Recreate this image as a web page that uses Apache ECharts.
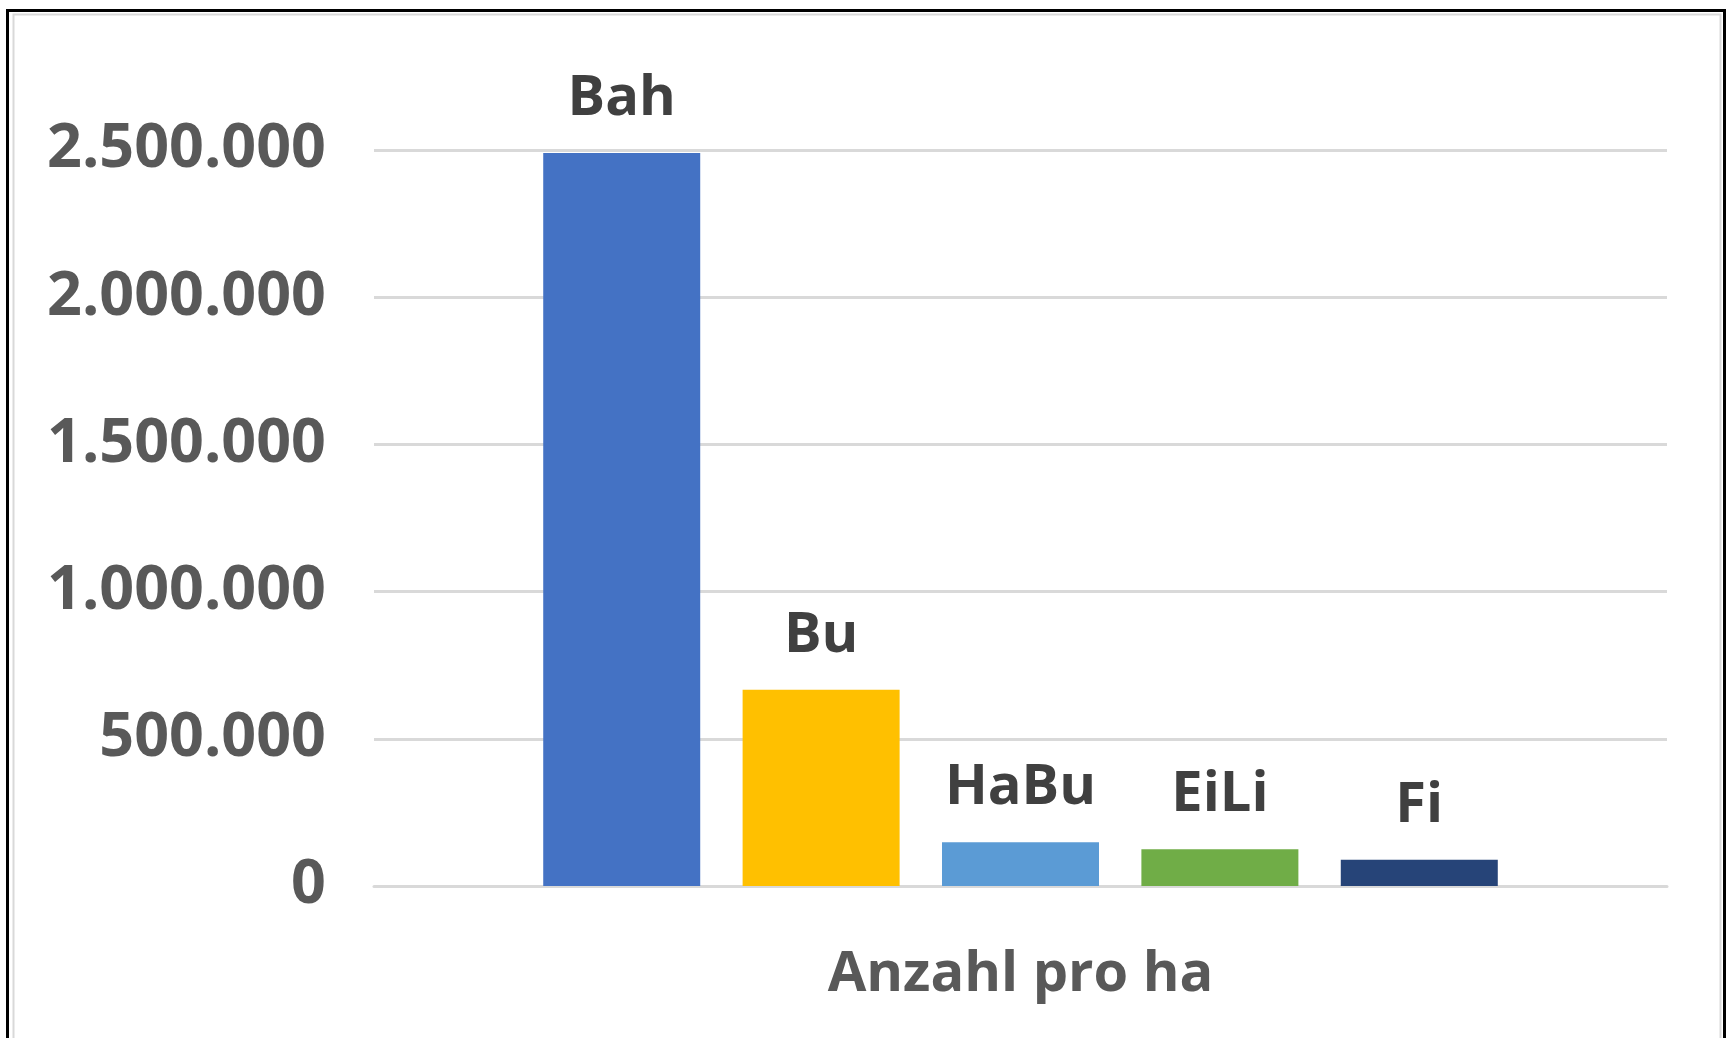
<!DOCTYPE html>
<html>
<head>
<meta charset="utf-8">
<script src="https://cdn.jsdelivr.net/npm/echarts@6/dist/echarts.min.js"></script>
<style>
  html, body { margin: 0; padding: 0; background: #fff; }
  #chart { width: 1735px; height: 1038px; }
</style>
</head>
<body>
<div id="chart"></div>
<script>
const categories = ['Anzahl pro ha']
const seriesNames = ['Bah', 'Bu', 'HaBu', 'EiLi', 'Fi']
const seriesValues = [2490000, 667000, 149000, 125000, 89000]
const seriesColors = ['#4472C4', '#FFC000', '#5B9BD5', '#70AD47', '#264478']

const FONT = '"Open Sans", sans-serif'

const formatDe = (v) => String(v).replace(/\B(?=(\d{3})+(?!\d))/g, '.')

const chart = echarts.init(document.getElementById('chart'))

chart.setOption({
    animation: false,
    backgroundColor: '#fff',
    grid: { left: 374, right: 68, top: 150, bottom: 152 },
    graphic: [
        { type: 'rect', shape: { x: 7.5, y: 10.5, width: 1717, height: 1100 },
          style: { fill: null, stroke: '#000', lineWidth: 3 } },
        { type: 'rect', shape: { x: 13.5, y: 14.5, width: 1707, height: 1100 },
          style: { fill: null, stroke: '#d9d9d9', lineWidth: 2 } }
    ],
    xAxis: {
        type: 'category',
        data: categories,
        axisLine: { lineStyle: { color: '#D9D9D9', width: 3 } },
        axisTick: { show: false },
        axisLabel: { color: '#595959', fontFamily: FONT, fontWeight: 'bold', fontSize: 56, margin: 61 }
    },
    yAxis: {
        type: 'value',
        min: 0,
        max: 2500000,
        interval: 500000,
        axisLine: { show: false },
        axisTick: { show: false },
        splitLine: { lineStyle: { color: '#D9D9D9', width: 3 } },
        axisLabel: {
            color: '#595959', fontFamily: FONT, fontWeight: 'bold', fontSize: 61, margin: 48,
            formatter: formatDe
        }
    },
    series: seriesNames.map((name, i) => ({
        type: 'bar',
        name,
        data: [seriesValues[i]],
        barWidth: 157,
        barGap: '27%',
        itemStyle: { color: seriesColors[i] },
        label: {
            show: true,
            position: 'top',
            distance: 26,
            formatter: '{a}',
            color: '#404040',
            fontFamily: FONT,
            fontWeight: 'bold',
            fontSize: 56
        }
    }))
})
</script>
</body>
</html>
